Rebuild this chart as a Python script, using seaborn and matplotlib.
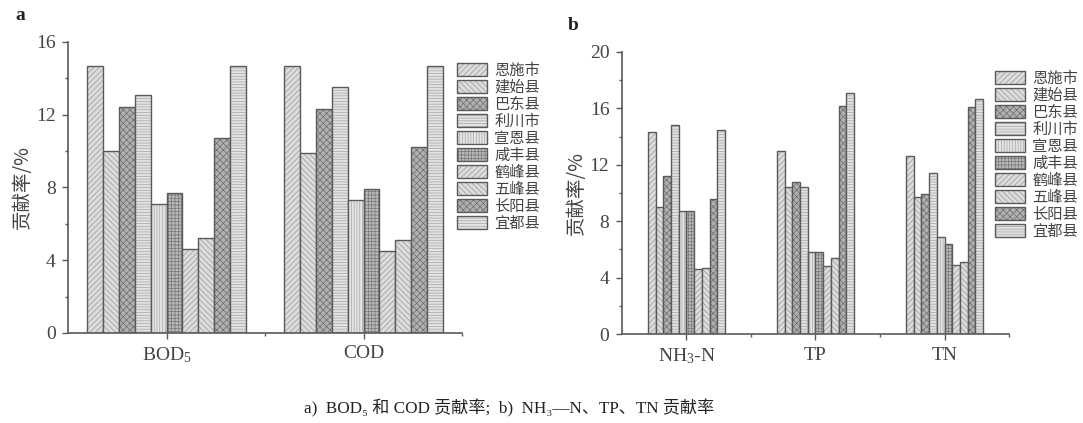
import numpy as np
import pandas as pd
import matplotlib
matplotlib.use('Agg')
import matplotlib.pyplot as plt
from matplotlib.ticker import MultipleLocator, FixedLocator
import seaborn as sns

# 县市名称
counties = ['恩施市', '建始县', '巴东县', '利川市', '宣恩县', '咸丰县', '鹤峰县', '五峰县', '长阳县', '宜都县']

# a) BOD5 / COD 贡献率 (%)
labels_a = ['BOD$_5$', 'COD']
bod5 = [14.7, 10.0, 12.4, 13.1, 7.1, 7.7, 4.6, 5.2, 10.7, 14.7]
cod = [14.7, 9.9, 12.3, 13.5, 7.3, 7.9, 4.5, 5.1, 10.2, 14.7]

# b) NH3-N / TP / TN 贡献率 (%)
labels_b = ['NH$_3$-N', 'TP', 'TN']
nh3n = [14.3, 9.0, 11.2, 14.8, 8.7, 8.7, 4.6, 4.7, 9.6, 14.5]
tp = [13.0, 10.4, 10.8, 10.4, 5.8, 5.8, 4.8, 5.4, 16.2, 17.1]
tn = [12.6, 9.7, 9.9, 11.4, 6.9, 6.4, 4.9, 5.1, 16.1, 16.7]

fills = ['#dcdcdc', '#dcdcdc', '#b0b0b0', '#e2e2e2', '#e4e4e4',
         '#b8b8b8', '#dcdcdc', '#dcdcdc', '#b0b0b0', '#e2e2e2']
hatches = ['//////', '\\\\\\\\\\\\', 'xxxxx', '------', '||||||',
           '+++++', '//////', '\\\\\\\\\\\\', 'xxxxx', '------']
hatch_cols = ['#999999', '#999999', '#6e6e6e', '#a5a5a5', '#a5a5a5',
              '#777777', '#999999', '#999999', '#6e6e6e', '#a5a5a5']
edge = '#5a5a5a'
txt = '#444444'

sns.set_style('ticks')
plt.rcParams['font.family'] = ['Liberation Serif', 'DejaVu Serif', 'Noto Sans CJK SC']
plt.rcParams['mathtext.fontset'] = 'custom'
plt.rcParams['mathtext.rm'] = 'Liberation Serif'
plt.rcParams['mathtext.default'] = 'regular'
plt.rcParams['hatch.linewidth'] = 0.5

df_a = pd.DataFrame({'指标': np.repeat(labels_a, len(counties)),
                     '县市': counties * 2,
                     '贡献率': bod5 + cod})
df_b = pd.DataFrame({'指标': np.repeat(labels_b, len(counties)),
                     '县市': counties * 3,
                     '贡献率': nh3n + tp + tn})

fig = plt.figure(figsize=(10.83, 4.23), dpi=100)
ax_a = fig.add_axes([0.0628, 0.2128, 0.3638, 0.688])
ax_b = fig.add_axes([0.5743, 0.2104, 0.3574, 0.6667])

pal = dict(zip(counties, fills))


def draw(ax, df, order, width, ymax, legend_xy):
    sns.barplot(data=df, x='指标', y='贡献率', hue='县市', order=order,
                hue_order=counties, palette=pal, saturation=1, width=width,
                edgecolor=edge, linewidth=1.0, errorbar=None, legend=False, ax=ax)
    for cont, h, hc in zip(ax.containers, hatches, hatch_cols):
        for bar in cont:
            bar.set_hatch(h)
            bar._hatch_color = matplotlib.colors.to_rgba(hc)
    ax.set_xlim(-0.5, len(order) - 0.5)
    ax.set_ylim(0, ymax)
    ax.yaxis.set_major_locator(MultipleLocator(4))
    ax.yaxis.set_minor_locator(MultipleLocator(2))
    ax.xaxis.set_minor_locator(FixedLocator(np.arange(len(order)) + 0.5))
    ax.set_xlabel('')
    ax.set_ylabel('贡献率/%', fontsize=14, color=txt,
                  family=['Noto Sans CJK SC', 'Liberation Serif'])
    ax.yaxis.set_label_coords(-0.09, 0.5)
    sns.despine(ax=ax)
    for s in ['left', 'bottom']:
        ax.spines[s].set_color(edge)
        ax.spines[s].set_linewidth(1.2)
    ax.tick_params(which='major', length=4, width=1, color=edge,
                   labelsize=14, labelcolor=txt, pad=5)
    ax.tick_params(which='minor', length=2.5, width=1, color=edge)
    leg = ax.legend(ax.containers, counties, loc='upper left',
                    bbox_to_anchor=legend_xy, bbox_transform=fig.transFigure,
                    frameon=False, handlelength=1.95,
                    handleheight=0.9, handletextpad=0.5, labelspacing=0.0,
                    borderpad=0, borderaxespad=0,
                    prop={'family': ['Noto Sans CJK SC'], 'size': 11})
    for t in leg.get_texts():
        t.set_color(txt)
    for p, hc in zip(leg.get_patches(), hatch_cols):
        p._hatch_color = matplotlib.colors.to_rgba(hc)


draw(ax_a, df_a, labels_a, 0.81, 16, (457 / 1083, 1 - 62 / 423))
draw(ax_b, df_b, labels_b, 0.6, 20, (995 / 1083, 1 - 70 / 423))

fig.text(15 / 1083, 1 - 15 / 423, 'a', fontsize=14, fontweight='bold',
         ha='left', va='center', color='#222222')
fig.text(568 / 1083, 1 - 25 / 423, 'b', fontsize=14, fontweight='bold',
         ha='left', va='center', color='#222222')

fig.text(0.470, 0.035, 'a)  BOD₅ 和 COD 贡献率;  b)  NH₃—N、TP、TN 贡献率',
         fontsize=12.3, ha='center', va='center', color='#222222',
         family=['Liberation Serif', 'DejaVu Serif', 'Noto Sans CJK SC'])

fig.savefig('out.png', dpi=100)
